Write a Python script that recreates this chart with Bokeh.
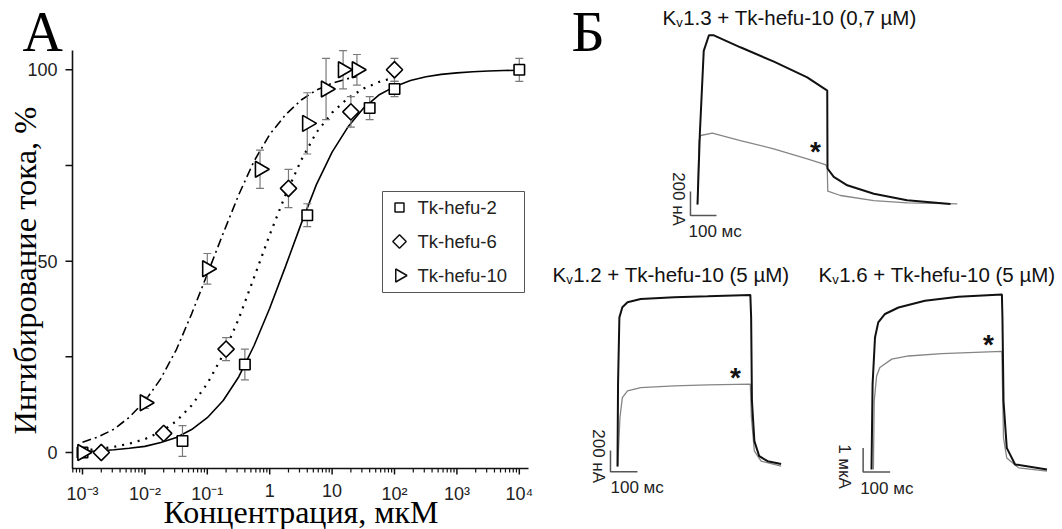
import numpy as np
from bokeh.plotting import figure
from bokeh.models import Label, Range1d, LogScale
from bokeh.embed import file_html
from bokeh.resources import INLINE
from bokeh.core.properties import value

# ---------------- Panel A: dose-response data ----------------
conc_hefu2 = [0.001, 0.04, 0.4, 4, 40, 100, 10000]
inh_hefu2 = [0, 3, 23, 62, 90, 95, 100]
err_hefu2 = [0, 4, 4, 3, 3, 2, 3]

conc_hefu6 = [0.002, 0.02, 0.2, 2, 20, 100]
inh_hefu6 = [0, 5, 27, 69, 89, 100]
err_hefu6 = [0, 1, 3, 5, 4, 3]

conc_hefu10 = [0.001, 0.01, 0.1, 0.7, 4, 8, 15, 25]
inh_hefu10 = [0, 13, 48, 74, 86, 95, 100, 100]
err_hefu10 = [0, 1.5, 4, 5, 8, 8, 5, 4]

# fitted curves
fit_conc_hefu2 = [0.001, 0.0018, 0.0032, 0.0056, 0.01, 0.018, 0.032, 0.056, 0.1, 0.18,
                  0.32, 0.56, 1, 1.8, 3.2, 5.6, 10, 18, 32, 56, 100, 180, 320, 560,
                  1000, 1800, 3200, 5600, 10000]
fit_inh_hefu2 = [0.3, 0.4, 0.7, 1.1, 1.6, 2.6, 3.9, 6.0, 9.1, 13.6, 19.8, 27.9, 37.7,
                 48.7, 59.8, 70.0, 78.5, 85.1, 90.0, 93.4, 95.6, 97.2, 98.2, 98.8, 99.2,
                 99.5, 99.7, 99.8, 99.9]
fit_conc_hefu6 = [0.001, 0.0018, 0.0032, 0.0056, 0.01, 0.018, 0.032, 0.056, 0.1, 0.18,
                  0.32, 0.56, 1, 1.8, 3.2, 5.6, 10, 18, 32, 56, 100]
fit_inh_hefu6 = [0.6, 0.9, 1.5, 2.3, 3.5, 5.4, 8.2, 12.3, 18.0, 25.6, 35.0, 45.7, 56.9,
                 67.4, 76.4, 83.6, 88.8, 92.6, 95.1, 96.8, 98.0]
fit_conc_hefu10 = [0.001, 0.0018, 0.0032, 0.0056, 0.01, 0.018, 0.032, 0.056, 0.1, 0.18,
                   0.32, 0.56, 1, 1.8, 3.2, 5.6, 10, 18, 25]
fit_inh_hefu10 = [2.7, 4.1, 6.1, 9.2, 13.4, 19.3, 26.9, 36.2, 46.6, 57.3, 67.4, 76.1,
                  83.1, 88.3, 92.1, 94.7, 96.5, 97.7, 98.2]

series_names = ["Tk-hefu-2", "Tk-hefu-6", "Tk-hefu-10"]

x_tick_values = [0.001, 0.01, 0.1, 1, 10, 100, 1000, 10000]
x_tick_labels = ["10\u207b\u00b3", "10\u207b\u00b2", "10\u207b\u00b9", "1", "10",
                 "10\u00b2", "10\u00b3", "10\u2074"]
y_tick_values = [0, 25, 50, 75, 100]
y_tick_labels = ["0", "", "50", "", "100"]
x_axis_title = "\u041a\u043e\u043d\u0446\u0435\u043d\u0442\u0440\u0430\u0446\u0438\u044f, \u043c\u043a\u041c"
y_axis_title = "\u0418\u043d\u0433\u0438\u0431\u0438\u0440\u043e\u0432\u0430\u043d\u0438\u0435 \u0442\u043e\u043a\u0430, %"

# ---------------- Panel B: current traces ----------------
# Kv1.3 (time ms, current nA)
t_kv13_ctrl = [0, 9, 24, 44, 63, 165, 294, 422, 492, 499, 500, 524, 576, 678, 806, 973]
i_kv13_ctrl = [0, 590, 1280, 1410, 1410, 1310, 1190, 1060, 960, 950, 300, 230, 160, 90, 35, 5]
t_kv13_tox = [0, 6, 12, 57, 165, 293, 422, 492, 499, 501, 550, 678, 807, 999]
i_kv13_tox = [0, 533, 575, 594, 533, 464, 381, 333, 311, 111, 75, 33, 14, 6]
# Kv1.2 (time ms, current nA)
t_kv12_ctrl = [0, 2, 7, 18, 37, 86, 210, 334, 492, 495, 498, 507, 525, 556, 606]
i_kv12_ctrl = [0, 769, 1394, 1488, 1535, 1566, 1582, 1591, 1604, 1394, 612, 237, 96, 50, 24]
t_kv12_tox = [1, 9, 18, 37, 86, 210, 334, 492, 496, 507, 532, 606]
i_kv12_tox = [0, 456, 643, 706, 738, 753, 763, 769, 456, 143, 50, 3]
# Kv1.6 (time ms, current uA)
t_kv16_ctrl = [0, 4, 13, 25, 50, 100, 198, 322, 483, 485, 489, 501, 532, 650]
i_kv16_ctrl = [0, 3.55, 5.50, 6.13, 6.48, 6.75, 7.03, 7.20, 7.29, 6.34, 2.85, 0.90, 0.21, 0]
t_kv16_tox = [7, 10, 19, 31, 75, 137, 260, 483, 485, 489, 501, 545, 650]
i_kv16_tox = [0, 2.85, 3.90, 4.25, 4.60, 4.73, 4.83, 4.92, 3.55, 1.32, 0.48, 0.07, -0.07]

panel_names = ["kv13", "kv12", "kv16"]
panel_channels = ["1.3", "1.2", "1.6"]
panel_titles = [" + Tk-hefu-10 (0,7 \u00b5M)", " + Tk-hefu-10 (5 \u00b5M)", " + Tk-hefu-10 (5 \u00b5M)"]
scalebar_t0 = [-27, -26, -31]
scalebar_i0 = [-92, -50, -0.1]
scalebar_ms = 100
scalebar_amp = [200, 200, 1]
scalebar_amp_labels = ["200 \u043d\u0410", "200 \u043d\u0410", "1 \u043c\u043a\u0410"]
scalebar_time_label = "100 \u043c\u0441"
star_t = [454, 437, 433]
star_i = [483, 879, 5.42]

# ---------------- layout constants (pixels of the page) ----------------
W, H = 1062, 529
SANS = "Liberation Sans"
SERIF = "Liberation Serif"
ERR = "#7a7a7a"
INK = "#111111"

# panel A: page x of 10^-3 and px per decade; page y of 0 % and px per %
A_X0, A_DEC = 82.0, 62.4
A_Y0, A_UNIT = 452.0, 3.827
AX_L, AX_R, AX_T, AX_B = 72, 528, 50, 468


def a_x(px):
    return 10 ** (-3 + (px - A_X0) / A_DEC)


def a_y(py):
    return (A_Y0 - py) / A_UNIT


# panel B sub-panels: page origin (onset, zero current), ms per px, amplitude per px
sub_origin = [(697, 204), (617, 466), (871, 469)]
sub_ms_per_px = [3.846, 3.704, 3.704]
sub_amp_per_px = [8.333, 9.346, 1 / 24]

p = figure(width=W, height=H, x_range=Range1d(0, W), y_range=Range1d(H, 0),
           toolbar_location=None, output_backend="svg",
           min_border_left=0, min_border_right=0, min_border_top=0, min_border_bottom=0,
           x_axis_location=None, y_axis_location=None)
p.outline_line_color = None
p.grid.visible = False
p.background_fill_color = "white"

xr = {"A": Range1d(a_x(0), a_x(W))}
yr = {"A": Range1d(a_y(H), a_y(0))}
for name, (ox, oy), a, b in zip(panel_names, sub_origin, sub_ms_per_px, sub_amp_per_px):
    xr[name] = Range1d(-ox * a, (W - ox) * a)
    yr[name] = Range1d((oy - H) * b, oy * b)
p.extra_x_ranges = xr
p.extra_y_ranges = yr
p.extra_x_scales = {"A": LogScale()}

A = dict(x_range_name="A", y_range_name="A")

# ---- panel A axes ----
p.line([a_x(AX_L), a_x(AX_L), a_x(AX_R)], [a_y(AX_T), a_y(AX_B), a_y(AX_B)],
       line_color=INK, line_width=1.6, **A)
p.segment(x0=[a_x(AX_L)] * len(y_tick_values), y0=y_tick_values,
          x1=[a_x(AX_L - 7)] * len(y_tick_values), y1=y_tick_values,
          line_color=INK, line_width=1.5, **A)
p.segment(x0=x_tick_values, y0=[a_y(AX_B)] * len(x_tick_values),
          x1=x_tick_values, y1=[a_y(AX_B + 6)] * len(x_tick_values),
          line_color=INK, line_width=1.5, **A)
minor = [m * 10.0 ** k for k in range(-4, 5) for m in range(2, 10)]
minor = [m for m in minor if a_x(AX_L) < m < a_x(AX_R)]
p.segment(x0=minor, y0=[a_y(AX_B)] * len(minor), x1=minor, y1=[a_y(AX_B + 4)] * len(minor),
          line_color=INK, line_width=1.2, **A)
p.text(x=[a_x(AX_L)] * len(y_tick_values), y=y_tick_values, text=y_tick_labels,
       x_offset=-15, text_align="right", text_baseline="middle",
       text_font=value(SANS), text_font_size="18px", text_color="#222222", **A)
p.text(x=x_tick_values, y=[a_y(AX_B)] * len(x_tick_values), text=x_tick_labels,
       y_offset=15, text_align="center", text_baseline="top",
       text_font=value(SANS), text_font_size="18px", text_color="#222222", **A)

# ---- panel A fitted curves ----
p.line(fit_conc_hefu2, fit_inh_hefu2, line_color="black", line_width=1.6, **A)
p.line(fit_conc_hefu6, fit_inh_hefu6, line_color="black", line_width=2.2, line_dash="2 6", **A)
p.line(fit_conc_hefu10, fit_inh_hefu10, line_color="black", line_width=1.6,
       line_dash="9 4 2 4", **A)


def add_errbars(conc, inh, err):
    xs = [c for c, e in zip(conc, err) if e > 0]
    lo = [v - e for v, e in zip(inh, err) if e > 0]
    hi = [v + e for v, e in zip(inh, err) if e > 0]
    p.segment(x0=xs, y0=lo, x1=xs, y1=hi, line_color=ERR, line_width=1.2, **A)
    p.scatter(xs + xs, lo + hi, marker="dash", size=8, line_color=ERR, line_width=1.2, **A)


add_errbars(conc_hefu2, inh_hefu2, err_hefu2)
add_errbars(conc_hefu6, inh_hefu6, err_hefu6)
add_errbars(conc_hefu10, inh_hefu10, err_hefu10)

MK = dict(fill_color="white", line_color="black", line_width=1.6)
marker_styles = [dict(marker="square", size=10.5, angle=0.0),
                 dict(marker="square", size=11.5, angle=np.pi / 4),
                 dict(marker="triangle", size=16, angle=-np.pi / 2)]
for (c, v), st in zip([(conc_hefu2, inh_hefu2), (conc_hefu6, inh_hefu6),
                       (conc_hefu10, inh_hefu10)], marker_styles):
    p.scatter(c, v, **st, **MK, **A)

# ---- panel A legend (box in page pixels) ----
LG_L, LG_R, LG_T, LG_B = 382, 524, 191, 292
p.quad(left=[LG_L], right=[LG_R], top=[LG_T], bottom=[LG_B], fill_color="white",
       line_color="#555555", line_width=1)
legend_rows = [207, 241, 275]
legend_styles = [dict(marker="square", size=9, angle=0.0),
                 dict(marker="square", size=9.5, angle=np.pi / 4),
                 dict(marker="triangle", size=13, angle=-np.pi / 2)]
for yrow, st, name in zip(legend_rows, legend_styles, series_names):
    p.scatter([399], [yrow], **st, fill_color="white", line_color="#111111", line_width=1.5)
    p.text([417], [yrow], text=[name], text_align="left", text_baseline="middle",
           text_font=value(SANS), text_font_size="18.5px", text_color="#222222")


def label(x_px, y_px, text, size, font=SANS, angle=0.0, align="left", color=INK,
          baseline="alphabetic"):
    p.add_layout(Label(x=x_px, y=H - y_px, x_units="screen", y_units="screen", text=text,
                       angle=angle, text_align=align, text_baseline=baseline,
                       text_font=font, text_font_size=size, text_color=color))


# (positions are of the text anchor as Bokeh places it)
label(22, 31, "\u0410", "56px", font=SERIF, color="black")
label(24.5, 270, y_axis_title, "32.5px", font=SERIF, angle=np.pi / 2, align="center",
      color="black")
label(300.5, 511, x_axis_title, "32px", font=SERIF, align="center", color="black")

# ---------------- Panel B ----------------
traces = {
    "kv13": (t_kv13_ctrl, i_kv13_ctrl, t_kv13_tox, i_kv13_tox),
    "kv12": (t_kv12_ctrl, i_kv12_ctrl, t_kv12_tox, i_kv12_tox),
    "kv16": (t_kv16_ctrl, i_kv16_ctrl, t_kv16_tox, i_kv16_tox),
}
amp_label_off = [(-12, -16.5), (-12, -15.7), (-19, -5.4)]
time_label_off = [(-2, 16), (0, 16), (-3, 17)]

for k, name in enumerate(panel_names):
    tc, ic, tt, it = traces[name]
    kw = dict(x_range_name=name, y_range_name=name)
    p.line(tt, it, line_color="#858585", line_width=1.3, **kw)
    p.line(tc, ic, line_color=INK, line_width=2, **kw)
    t0, i0 = scalebar_t0[k], scalebar_i0[k]
    p.line([t0 + scalebar_ms, t0, t0], [i0, i0, i0 + scalebar_amp[k]],
           line_color="#555555", line_width=1.5, **kw)
    p.text([t0], [i0], text=[scalebar_amp_labels[k]], angle=-np.pi / 2,
           x_offset=amp_label_off[k][0], y_offset=amp_label_off[k][1],
           text_align="center", text_baseline="alphabetic",
           text_font=value(SANS), text_font_size="17px", text_color="#222222", **kw)
    p.text([t0], [i0], text=[scalebar_time_label],
           x_offset=time_label_off[k][0], y_offset=time_label_off[k][1],
           text_align="left", text_baseline="alphabetic",
           text_font=value(SANS), text_font_size="17px", text_color="#222222", **kw)
    p.text([star_t[k]], [star_i[k]], text=["*"], y_offset=5,
           text_align="center", text_baseline="alphabetic", text_font_style="bold",
           text_font=value(SANS), text_font_size="28px", text_color=INK, **kw)

title_pos = [(662, 16.5), (552, 274), (818, 274)]
TFS = 20.5
for (x, y), ch, rest in zip(title_pos, panel_channels, panel_titles):
    label(x, y, "K", f"{TFS}px")
    label(x + 0.667 * TFS, y + 5, "v", "13px")
    label(x + 0.667 * TFS + 7, y, ch + rest, f"{TFS}px")

label(571, 31, "\u0411", "58px", font=SERIF, color="black")

open("out.html", "w").write(file_html(p, INLINE))
